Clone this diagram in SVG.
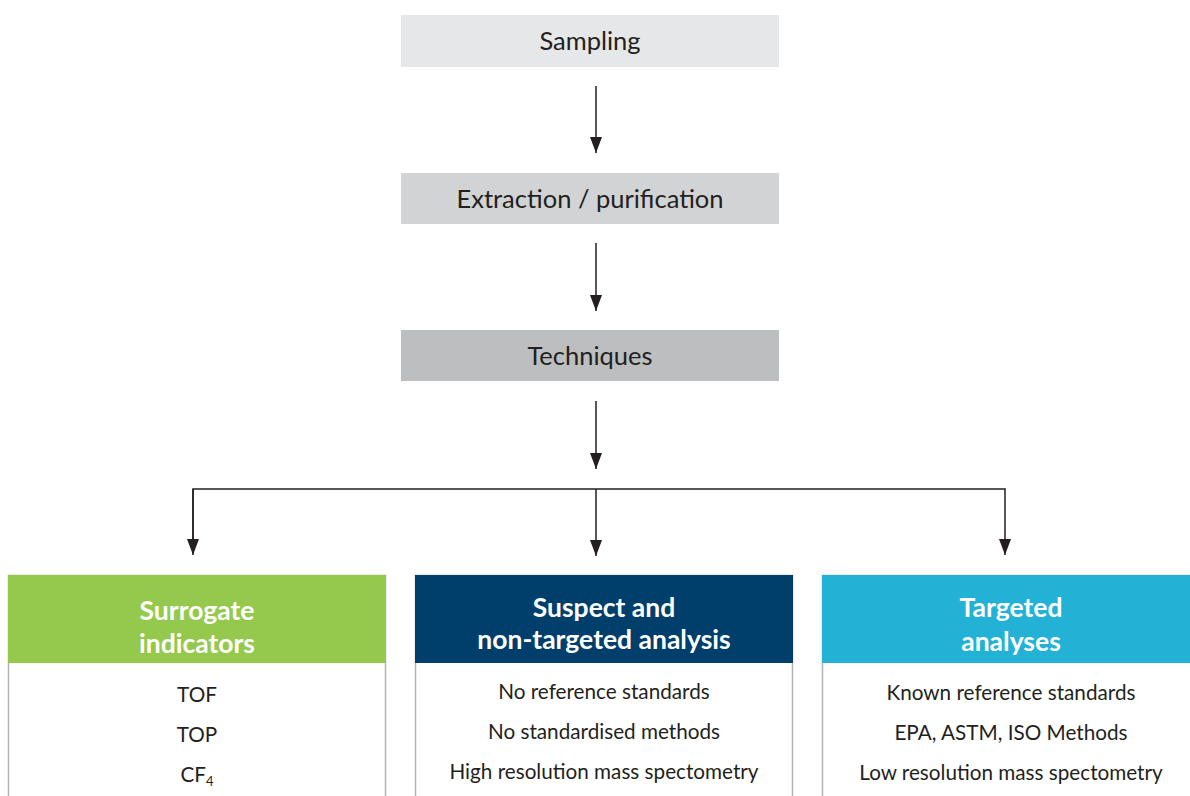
<svg xmlns="http://www.w3.org/2000/svg" width="1190" height="796" viewBox="0 0 1190 796">
<style>
.t{font-family:Lato,"Source Sans Pro","Noto Sans",sans-serif;fill:#231f20;text-anchor:middle}
.step{font-size:25.5px}
.hd{font-size:26.5px;font-weight:bold;fill:#ffffff}
.bd{font-size:20.7px}
.body{fill:#ffffff;stroke:#b3b3b3;stroke-width:1.5}
.cn{stroke:#231f20;stroke-width:1.5;fill:none}
</style>
<defs>
<marker id="ah" viewBox="0 0 16 12" refX="16" refY="6" markerWidth="16" markerHeight="12" markerUnits="userSpaceOnUse" orient="auto">
<path d="M0,0 L16,6 L0,12 Z" fill="#231f20"/>
</marker>
</defs>
<rect width="1190" height="796" fill="#ffffff"/>
<g id="sampling">
<rect x="401" y="15" width="378" height="52" fill="#e6e7e8"/>
<text class="t step" x="590" y="50">Sampling</text>
</g>
<g id="extraction">
<rect x="401" y="173" width="378" height="51" fill="#d1d3d4"/>
<text class="t step" x="590" y="208">Extraction / purification</text>
</g>
<g id="techniques">
<rect x="401" y="330" width="378" height="51" fill="#bcbec0"/>
<text class="t step" x="590" y="365">Techniques</text>
</g>
<g id="connectors">
<line class="cn" x1="596" y1="86" x2="596" y2="153" marker-end="url(#ah)"/>
<line class="cn" x1="596" y1="243" x2="596" y2="311" marker-end="url(#ah)"/>
<line class="cn" x1="596" y1="401" x2="596" y2="469" marker-end="url(#ah)"/>
<polyline class="cn" points="193,553 193,489 1005,489 1005,555" marker-end="url(#ah)"/>
<line class="cn" x1="193" y1="489" x2="193" y2="555" marker-end="url(#ah)"/>
<line class="cn" x1="596" y1="489" x2="596" y2="556" marker-end="url(#ah)"/>
</g>
<g id="surrogate">
<rect class="body" x="8.5" y="575.5" width="377" height="230"/>
<rect x="8" y="575" width="378" height="88" fill="#94c94e"/>
<text class="t hd" x="197" y="620">Surrogate</text>
<text class="t hd" x="197" y="653">indicators</text>
<text class="t bd" x="197" y="702">TOF</text>
<text class="t bd" x="197" y="742">TOP</text>
<text class="t bd" x="197" y="782">CF<tspan font-size="13" dy="4">4</tspan></text>
</g>
<g id="suspect">
<rect class="body" x="415.5" y="575.5" width="377" height="230"/>
<rect x="415" y="575" width="378" height="88" fill="#003e6b"/>
<text class="t hd" x="604" y="617">Suspect and</text>
<text class="t hd" x="604" y="649">non-targeted analysis</text>
<text class="t bd" x="604" y="699">No reference standards</text>
<text class="t bd" x="604" y="739">No standardised methods</text>
<text class="t bd" x="604" y="779">High resolution mass spectometry</text>
</g>
<g id="targeted">
<rect class="body" x="822.5" y="575.5" width="377" height="230"/>
<rect x="822" y="575" width="368" height="88" fill="#23b2d6"/>
<text class="t hd" x="1011" y="617">Targeted</text>
<text class="t hd" x="1011" y="651">analyses</text>
<text class="t bd" x="1011" y="700">Known reference standards</text>
<text class="t bd" x="1011" y="740">EPA, ASTM, ISO Methods</text>
<text class="t bd" x="1011" y="780">Low resolution mass spectometry</text>
</g>
</svg>
